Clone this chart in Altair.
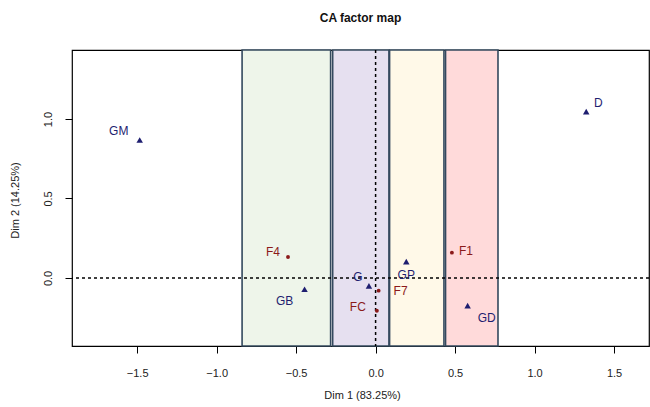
import altair as alt
import pandas as pd

# --- data ---
row_names = ["GM", "D", "GB", "G", "GP", "GD"]
row_x = [-1.484, 1.325, -0.447, -0.042, 0.193, 0.579]
row_y = [0.868, 1.046, -0.071, -0.050, 0.103, -0.174]

col_names = ["F4", "F7", "FC", "F1"]
col_x = [-0.551, 0.019, 0.008, 0.480]
col_y = [0.132, -0.080, -0.206, 0.159]

band_names = ["g1", "g2", "g3", "g4"]
band_start = [-0.84, -0.27, 0.088, 0.44]
band_end = [-0.283, 0.084, 0.43, 0.77]
band_fill = ["#eef5ea", "#e6e0f0", "#fff9e8", "#ffdada"]

x_ticks = [-1.5, -1.0, -0.5, 0.0, 0.5, 1.0, 1.5]
y_ticks = [0.0, 0.5, 1.0]

# label placement (pixel offsets of label centre from its point)
label_offsets = {
    "GM": (-21, -9), "D": (12, -9), "GB": (-20, 12), "G": (-11, -9),
    "GP": (0, 13), "GD": (19, 12),
    "F4": (-15, -5), "F7": (22, 0), "FC": (-19, -4), "F1": (14, -2),
}

W, H = 577, 296
FONT = "Liberation Sans"
NAVY = "#1e1e70"
DARKRED = "#8b1a1a"

rows = pd.DataFrame({"name": row_names, "x": row_x, "y": row_y})
cols = pd.DataFrame({"name": col_names, "x": col_x, "y": col_y})
bands = pd.DataFrame({"band": band_names, "start": band_start, "end": band_end})

xscale = alt.Scale(domain=[-1.91, 1.72], nice=False, zero=False)
yscale = alt.Scale(domain=[-0.428, 1.434], nice=False, zero=False)

xaxis = alt.Axis(values=x_ticks, format=".1f", title="Dim 1 (83.25%)", grid=False,
                 domain=False, tickSize=7, tickColor="black", labelPadding=14,
                 labelFontSize=11, labelFont=FONT, labelColor="#222",
                 titleFont=FONT, titleFontSize=11, titleFontWeight="normal",
                 titleX=290, titleY=49, titleBaseline="middle", titleColor="#222")
yaxis = alt.Axis(values=y_ticks, format=".1f", title="Dim 2 (14.25%)", grid=False,
                 domain=False, tickSize=7, tickColor="black", labelPadding=12,
                 labelAngle=-90, labelAlign="center", labelBaseline="bottom",
                 labelFontSize=11, labelFont=FONT, labelColor="#222",
                 titleFont=FONT, titleFontSize=11, titleFontWeight="normal",
                 titleX=-57, titleY=150, titleBaseline="middle", titleAlign="center",
                 titleAngle=-90, titleColor="#222")

rects = alt.Chart(bands).mark_rect(stroke="#34495e", strokeWidth=1.6).encode(
    x=alt.X("start:Q", scale=xscale, axis=xaxis),
    x2="end:Q",
    y=alt.value(0),
    y2=alt.value(H),
    fill=alt.Fill("band:N", scale=alt.Scale(domain=band_names, range=band_fill), legend=None),
)

hline = alt.Chart(rows).mark_rule(color="black", strokeDash=[3, 3], strokeWidth=1.5).encode(
    y=alt.Y("z:Q", scale=yscale, axis=yaxis)
).transform_calculate(z="0").transform_filter("datum.name == 'GM'")

vline = alt.Chart(rows).mark_rule(color="black", strokeDash=[3, 3], strokeWidth=1.5).encode(
    x=alt.X("z:Q", scale=xscale)
).transform_calculate(z="0").transform_filter("datum.name == 'GM'")

tri = alt.Chart(rows).mark_point(shape="triangle-up", filled=True, color=NAVY, size=42, opacity=1).encode(
    x=alt.X("x:Q", scale=xscale), y=alt.Y("y:Q", scale=yscale)
)
dots = alt.Chart(cols).mark_circle(color=DARKRED, size=15, opacity=1).encode(
    x=alt.X("x:Q", scale=xscale), y=alt.Y("y:Q", scale=yscale)
)

labels = []
for df, colr in [(rows, NAVY), (cols, DARKRED)]:
    for n in df["name"]:
        dx, dy = label_offsets[n]
        labels.append(
            alt.Chart(df).transform_filter(f"datum.name == '{n}'").mark_text(
                dx=dx, dy=dy, align="center", baseline="middle", font=FONT,
                fontSize=12, color=colr
            ).encode(x=alt.X("x:Q", scale=xscale), y=alt.Y("y:Q", scale=yscale), text="name:N")
        )

chart = alt.layer(rects, hline, vline, tri, dots, *labels).properties(
    width=W, height=H,
    title=alt.TitleParams("CA factor map", fontSize=12, fontWeight="bold", font=FONT,
                          anchor="middle", offset=24, color="#111"),
    padding={"left": 72, "top": 50, "right": 1, "bottom": 61},
    autosize=alt.AutoSizeParams(type="none"),
).configure_view(stroke="black", strokeWidth=1.2)

chart.save("out.html", embed_options={"renderer": "svg", "actions": False})
